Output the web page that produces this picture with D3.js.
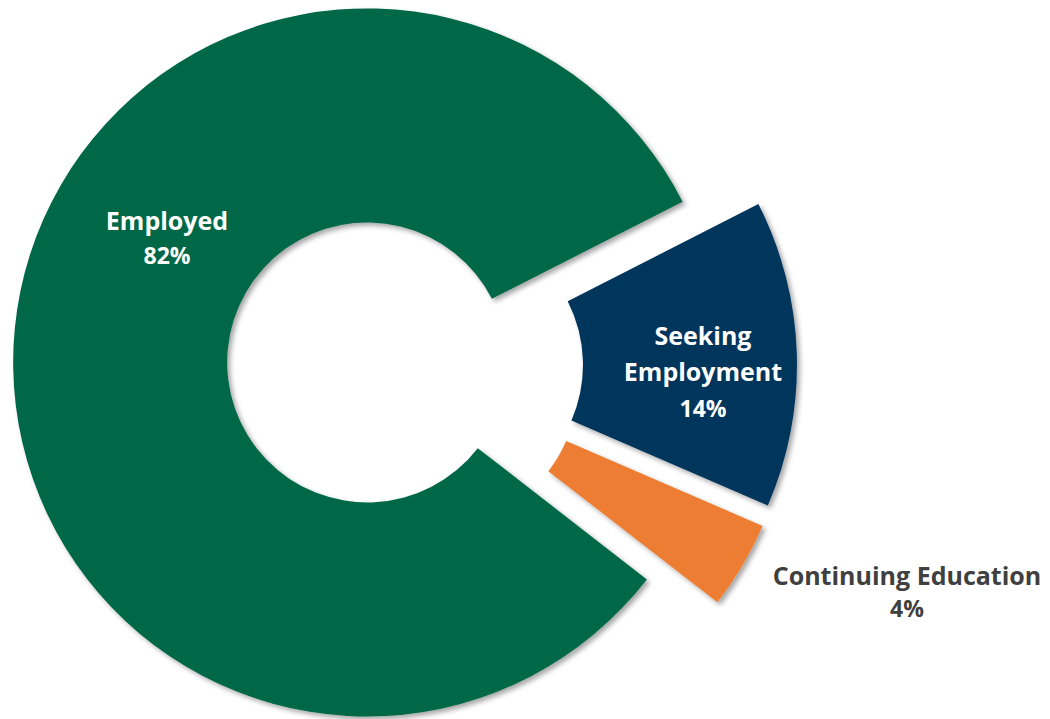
<!DOCTYPE html>
<html>
<head>
<meta charset="utf-8">
<script src="https://cdn.jsdelivr.net/npm/d3@7"></script>
<style>
  html, body { margin: 0; padding: 0; background: #ffffff; }
  svg { display: block; }
</style>
</head>
<body>
<script>
// ---- data ----
const categories = ["Employed", "Seeking Employment", "Continuing Education"];
const values = [82, 14, 4];
const labelLines = [["Employed"], ["Seeking", "Employment"], ["Continuing Education"]];
const colors = ["#006747", "#00345C", "#ED7D31"];

// ---- layout ----
const W = 1050, H = 719;
const cx = 405, cy = 366;
const outerR = 354, innerR = 140;
const explode = 38;
const startDeg = 127.8;
// label anchor offsets relative to the chart centre (layout, not data)
const labelLayout = [
  { dx: -238, dy: -136, lh: 34, fill: "#ffffff" },
  { dx: 298, dy: -21, lh: 36, fill: "#ffffff" },
  { dx: 502, dy: 219, lh: 32, fill: "#404040" }
];

const svg = d3.select("body").append("svg")
  .attr("width", W).attr("height", H);

const defs = svg.append("defs");
const f = defs.append("filter").attr("id", "shadow")
  .attr("x", "-20%").attr("y", "-20%").attr("width", "140%").attr("height", "140%");
f.append("feDropShadow")
  .attr("dx", 3).attr("dy", 3).attr("stdDeviation", 2.5)
  .attr("flood-color", "#000").attr("flood-opacity", 0.35);

const data = categories.map((c, i) => ({ cat: c, value: values[i], i }));
const a0 = startDeg * Math.PI / 180;
const pie = d3.pie().sort(null).value(d => d.value)
  .startAngle(a0).endAngle(a0 + 2 * Math.PI);
const arc = d3.arc().innerRadius(innerR).outerRadius(outerR);

const g = svg.append("g").attr("transform", `translate(${cx},${cy})`);

g.selectAll("path.slice")
  .data(pie(data))
  .join("path")
  .attr("class", "slice")
  .attr("d", arc)
  .attr("fill", d => colors[d.data.i])
  .attr("filter", "url(#shadow)")
  .attr("transform", d => {
    const m = (d.startAngle + d.endAngle) / 2;
    return `translate(${explode * Math.sin(m)},${-explode * Math.cos(m)})`;
  });

const labels = g.selectAll("text.lbl")
  .data(data)
  .join("text")
  .attr("class", "lbl")
  .attr("text-anchor", "middle")
  .attr("font-family", "'Open Sans', Lato, sans-serif")
  .attr("font-weight", "bold")
  .attr("fill", d => labelLayout[d.i].fill)
  .attr("transform", d => `translate(${labelLayout[d.i].dx},${labelLayout[d.i].dy})`);

labels.each(function(d) {
  const t = d3.select(this);
  const lines = labelLines[d.i].concat([d.value + "%"]);
  const lh = labelLayout[d.i].lh;
  lines.forEach((ln, k) => {
    t.append("tspan")
      .attr("x", 0)
      .attr("y", k * lh)
      .attr("font-size", k === lines.length - 1 ? 23 : 25)
      .text(ln);
  });
});
</script>
</body>
</html>
